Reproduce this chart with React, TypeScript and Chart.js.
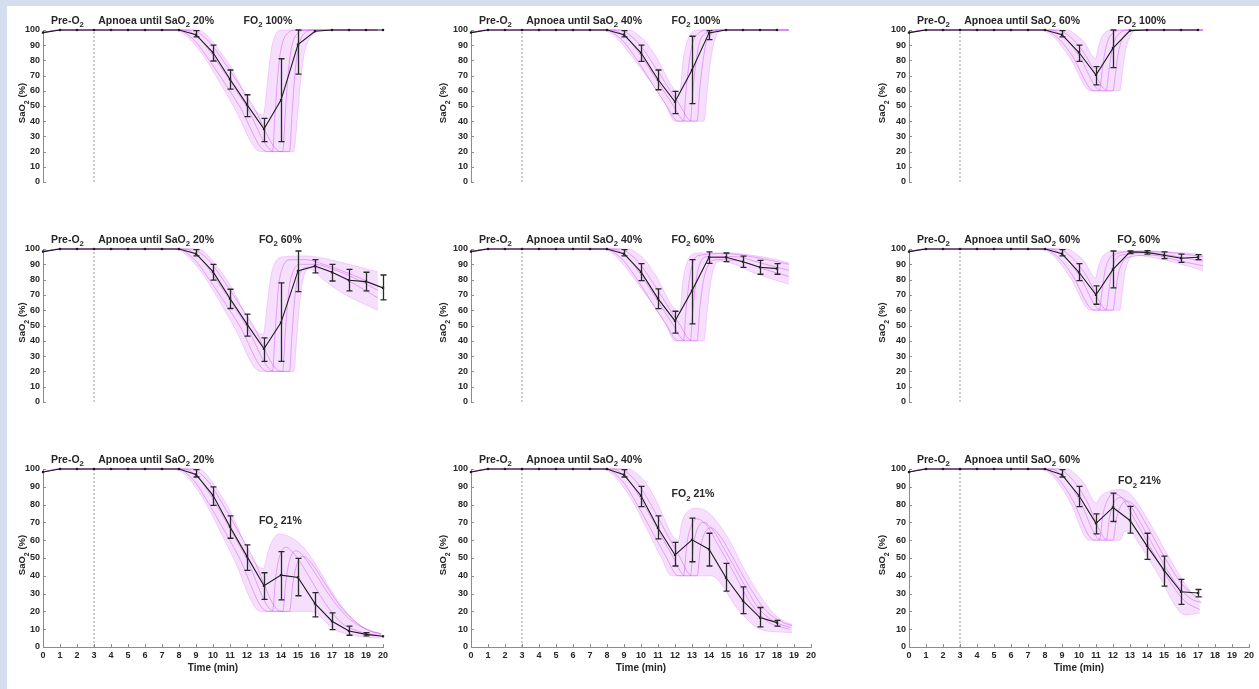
import React, { useEffect, useRef } from "react";
import { Chart, registerables } from "chart.js";

Chart.register(...registerables);

type Pt = [number, number];
type Err = [number, number, number];

// ---------- tick labels / categories ----------
const TIME_TICKS = [0, 1, 2, 3, 4, 5, 6, 7, 8, 9, 10, 11, 12, 13, 14, 15, 16, 17, 18, 19, 20];
const SAO2_TICKS = [0, 10, 20, 30, 40, 50, 60, 70, 80, 90, 100];
const TARGET_LABELS = ["20%", "40%", "60%"]; // columns: apnoea until SaO2
const FO2_LABELS = ["100%", "60%", "21%"]; // rows: FO2 after apnoea
const PRE_O2_END = 3;

// shared pre-oxygenation start of every simulated trace
const PRE: Pt[] = [[0, 98.3], [1, 100]];

// ---------- mean SaO2 per minute (index = minute) ----------
const MEAN_A1 = [98.3, 100, 100, 100, 100, 100, 100, 100, 100, 96.9, 85.2, 67.6, 50.9, 34.8, 53.9, 90.4, 99.2, 100, 100, 100, 100];
const MEAN_B1 = [98.3, 100, 100, 100, 100, 100, 100, 100, 100, 96.9, 85.2, 67.6, 50.9, 34.8, 51.9, 85.7, 88.9, 84.8, 79.6, 78.7, 74.6];
const MEAN_C1 = [98.3, 100, 100, 100, 100, 100, 100, 100, 100, 96.9, 85.2, 67.6, 50.9, 34.4, 40.4, 39.1, 24.4, 14.5, 9, 7.1, 6];
const MEAN_A2 = [98.3, 100, 100, 100, 100, 100, 100, 100, 100, 96.9, 85, 67.4, 52.8, 73.7, 98.1, 100, 100, 100, 100];
const MEAN_B2 = [98.3, 100, 100, 100, 100, 100, 100, 100, 100, 96.9, 85, 67.6, 53, 72.8, 94.6, 94.6, 91.7, 88.1, 87.2];
const MEAN_C2 = [98.3, 100, 100, 100, 100, 100, 100, 100, 100, 96.8, 85, 66.9, 51.7, 60.2, 54.9, 38.9, 25.9, 16.5, 13.7];
const MEAN_A3 = [98.3, 100, 100, 100, 100, 100, 100, 100, 100, 96.9, 85.2, 70.4, 88.1, 99.6, 100, 100, 100, 100];
const MEAN_B3 = [98.3, 100, 100, 100, 100, 100, 100, 100, 100, 96.9, 84.8, 70, 86.7, 98.1, 97.8, 95.9, 94, 94.6];
const MEAN_C3 = [98.3, 100, 100, 100, 100, 100, 100, 100, 100, 96.8, 85, 69.5, 78.4, 71.1, 56.8, 43.2, 31, 30.3];

// ---------- error bars [minute, low, high] ----------
const ERR_A1: Err[] = [[9, 95.5, 99.6], [10, 79.6, 90], [11, 61.1, 73.7], [12, 43, 57.4], [13, 26.5, 41.9], [14, 26.5, 81.1], [15, 71, 100]];
const ERR_B1: Err[] = [[9, 95.5, 99.6], [10, 79.6, 90], [11, 61.1, 73.7], [12, 43, 57.4], [13, 26.5, 41.9], [14, 26.5, 77.8], [15, 72.2, 98.7], [16, 84.4, 93.1], [17, 79.1, 90], [18, 72.6, 86.7], [19, 72.6, 84.8], [20, 66.7, 83]];
const ERR_C1: Err[] = [[9, 95.5, 99.6], [10, 79.6, 90], [11, 61.1, 73.7], [12, 43, 57.4], [13, 26.7, 41.7], [14, 26.5, 53.6], [15, 28.8, 49.8], [16, 16.9, 30.6], [17, 9.8, 19.2], [18, 6.6, 11.7], [19, 6.2, 8.1]];
const ERR_A2: Err[] = [[9, 95.5, 99.6], [10, 79.3, 90], [11, 60.7, 73.7], [12, 45, 59.6], [13, 51.5, 95.9], [14, 93.7, 99.6]];
const ERR_B2: Err[] = [[9, 95.5, 99.6], [10, 79.3, 90.4], [11, 61, 74], [12, 45, 59.3], [13, 51, 93], [14, 90.6, 98.1], [15, 91.7, 97.4], [16, 88, 95.4], [17, 83.5, 92.6], [18, 83.5, 90.4]];
const ERR_C2: Err[] = [[9, 95.5, 99.6], [10, 78.9, 90.2], [11, 60.7, 73.7], [12, 45.5, 58.8], [13, 47.9, 72.4], [14, 45.5, 63.9], [15, 31.4, 47], [16, 18.8, 33.8], [17, 11.3, 22.2], [18, 11.7, 15]];
const ERR_A3: Err[] = [[9, 95.5, 99.6], [10, 79.3, 90], [11, 63.9, 75.9], [12, 75.2, 100]];
const ERR_B3: Err[] = [[9, 95.5, 99.6], [10, 79.3, 90.4], [11, 63.9, 75.9], [12, 74.6, 98.7], [13, 97, 98.7], [14, 96.7, 98.9], [15, 93.7, 98.1], [16, 91.3, 96.7], [17, 93.1, 96.3]];
const ERR_C3: Err[] = [[9, 95.5, 99.6], [10, 78.9, 90.2], [11, 63.5, 74.8], [12, 70.5, 86.5], [13, 64, 79], [14, 49.2, 63.9], [15, 34.2, 51.1], [16, 23.9, 38], [17, 28.2, 32.3]];

// ---------- envelope of the simulated traces (upper / lower) ----------
const ENVHI_A1: Pt[] = [[0, 98.3], [1, 100], [9.2, 100], [9.6, 97], [10, 92], [10.8, 80], [12.95, 44], [13.2, 65], [13.4, 85], [13.6, 95], [14, 100], [19.7, 100]];
const ENVLO_A1: Pt[] = [[0, 98.3], [1, 100], [7.6, 100], [8.2, 98], [8.8, 92], [9.5, 82], [11.2, 50], [12.8, 20], [14.75, 20], [14.95, 40], [15.1, 60], [15.3, 80], [15.5, 90], [15.8, 96], [16.3, 100], [19.7, 100]];
const ENVHI_B1: Pt[] = [[0, 98.3], [1, 100], [9.2, 100], [9.6, 97], [10, 92], [10.8, 80], [12.95, 44], [13.2, 65], [13.4, 82], [13.7, 92], [14.2, 95], [15.5, 95.5], [16.5, 94], [18, 90], [19.7, 85]];
const ENVLO_B1: Pt[] = [[0, 98.3], [1, 100], [7.6, 100], [8.2, 98], [8.8, 92], [9.5, 82], [11.2, 50], [12.8, 20], [14.75, 20], [14.95, 45], [15.15, 70], [15.4, 84], [15.7, 87], [16.5, 80], [17.5, 72], [18.5, 66], [19.7, 60]];
const ENVHI_C1: Pt[] = [[0, 98.3], [1, 100], [9.2, 100], [9.6, 97], [10, 92], [10.8, 80], [12.95, 44], [13.25, 54], [13.5, 60], [13.9, 63.5], [14.5, 62], [15, 59], [15.5, 54], [16.2, 44], [17, 31], [18, 18], [19, 10], [19.9, 7.5]];
const ENVLO_C1: Pt[] = [[0, 98.3], [1, 100], [7.6, 100], [8.2, 98], [8.8, 92], [9.5, 82], [11.2, 50], [12.8, 20], [15.8, 20], [17.1, 10], [18, 7], [19, 5.5], [19.9, 5]];
const ENVHI_A2: Pt[] = [[0, 98.3], [1, 100], [9.3, 100], [9.8, 97], [10.3, 92], [10.8, 84], [12.28, 59], [12.45, 78], [12.65, 90], [12.9, 97], [13.3, 100], [18.7, 100]];
const ENVLO_A2: Pt[] = [[0, 98.3], [1, 100], [7.6, 100], [8.2, 98], [8.8, 92], [9.5, 82], [11.4, 52], [12, 40], [13.7, 40], [13.9, 60], [14.1, 80], [14.3, 92], [14.6, 99], [15, 100], [18.7, 100]];
const ENVHI_B2: Pt[] = [[0, 98.3], [1, 100], [9.3, 100], [9.8, 97], [10.3, 92], [10.8, 84], [12.28, 59], [12.45, 78], [12.65, 89], [12.9, 95.5], [13.5, 97.5], [15, 97.5], [16.5, 96], [18, 93], [18.7, 91]];
const ENVLO_B2: Pt[] = [[0, 98.3], [1, 100], [7.6, 100], [8.2, 98], [8.8, 92], [9.5, 82], [11.4, 52], [12, 40], [13.7, 40], [13.9, 60], [14.1, 78], [14.3, 88], [14.6, 92], [15.5, 90], [16.5, 85], [17.5, 81], [18.7, 77]];
const ENVHI_C2: Pt[] = [[0, 98.3], [1, 100], [9.3, 100], [9.8, 97], [10.3, 92], [10.8, 84], [12.2, 60], [12.4, 70], [12.8, 76.5], [13.3, 78], [13.9, 76], [14.5, 70], [15.2, 60], [16, 45], [17, 29], [18, 17], [18.9, 12.5]];
const ENVLO_C2: Pt[] = [[0, 98.3], [1, 100], [7.6, 100], [8.2, 98], [8.8, 92], [9.5, 82], [11.2, 50], [11.8, 40], [14.1, 40], [15.8, 20], [17, 10], [18, 8.5], [18.9, 8]];
const ENVHI_A3: Pt[] = [[0, 98.3], [1, 100], [9.3, 100], [9.8, 97], [10.3, 92], [11, 81], [11.05, 84], [11.25, 93], [11.5, 98], [11.9, 100], [17.3, 100]];
const ENVLO_A3: Pt[] = [[0, 98.3], [1, 100], [7.6, 100], [8.2, 98], [8.8, 92], [9.5, 81], [10.7, 60], [12.4, 60], [12.55, 72], [12.7, 84], [12.9, 93], [13.2, 99], [13.5, 100], [17.3, 100]];
const ENVHI_B3: Pt[] = [[0, 98.3], [1, 100], [9.3, 100], [9.8, 97], [10.3, 92], [11, 81], [11.05, 84], [11.25, 92], [11.5, 96.5], [12, 98.5], [14, 98.8], [15.5, 98], [17.3, 96.5]];
const ENVLO_B3: Pt[] = [[0, 98.3], [1, 100], [7.6, 100], [8.2, 98], [8.8, 92], [9.5, 81], [10.7, 60], [12.4, 60], [12.55, 72], [12.7, 84], [12.9, 92], [13.2, 96], [14, 95], [15, 93], [16, 90], [17.3, 86]];
const ENVHI_C3: Pt[] = [[0, 98.3], [1, 100], [9.3, 100], [9.8, 97], [10.3, 92], [11, 81], [11.3, 85], [11.8, 87.5], [12.3, 88.5], [12.9, 87], [13.5, 80], [14.5, 64], [15.5, 47], [16.5, 32], [17.2, 25]];
const ENVLO_C3: Pt[] = [[0, 98.3], [1, 100], [7.6, 100], [8.2, 98], [8.8, 92], [9.5, 81], [10.6, 60], [12.4, 60], [12.7, 65], [13, 65], [13.4, 60], [14.7, 40], [15.9, 20], [16.3, 18], [17.1, 19]];

// ---------- representative simulated traces (early / middle / late) ----------
const TR_A1_E: Pt[] = [[8, 100], [8.5, 97], [9, 92], [9.6, 83], [11.5, 51], [13.2, 20], [13.5, 20], [13.65, 45], [13.85, 75], [14.05, 90], [14.4, 98], [14.9, 100], [19.7, 100]];
const TR_A1_M: Pt[] = [[8.4, 100], [8.9, 97], [9.4, 92], [10, 83], [11.9, 51], [13.6, 20], [14.1, 20], [14.25, 45], [14.45, 75], [14.65, 90], [15, 98], [15.5, 100], [19.7, 100]];
const TR_A1_L: Pt[] = [[8.8, 100], [9.3, 97], [9.8, 92], [10.4, 83], [12.3, 51], [14, 20], [14.5, 20], [14.65, 45], [14.85, 75], [15.05, 90], [15.4, 98], [15.9, 100], [19.7, 100]];
const TR_B1_E: Pt[] = [[8, 100], [8.5, 97], [9, 92], [9.6, 83], [11.5, 51], [13.2, 20], [13.5, 20], [13.65, 45], [13.85, 75], [14.1, 88], [14.6, 93], [15.5, 93], [16.5, 90], [18, 84], [19.7, 76]];
const TR_B1_M: Pt[] = [[8.4, 100], [8.9, 97], [9.4, 92], [10, 83], [11.9, 51], [13.6, 20], [14.1, 20], [14.25, 45], [14.45, 72], [14.7, 85], [15.2, 90], [16, 90], [17, 87], [18.5, 80], [19.7, 73]];
const TR_B1_L: Pt[] = [[8.8, 100], [9.3, 97], [9.8, 92], [10.4, 83], [12.3, 51], [14, 20], [14.5, 20], [14.65, 45], [14.85, 72], [15.1, 84], [15.6, 88], [16.5, 87], [17.5, 82], [18.8, 74], [19.7, 68]];
const TR_C1_E: Pt[] = [[8, 100], [8.5, 97], [9, 92], [9.6, 83], [11.5, 51], [13.2, 20], [13.5, 20], [13.7, 40], [13.95, 52], [14.3, 56], [14.8, 52], [15.5, 42], [16.5, 26], [17.5, 14], [18.5, 9], [19.7, 6.5]];
const TR_C1_M: Pt[] = [[8.4, 100], [8.9, 97], [9.4, 92], [10, 83], [11.9, 51], [13.6, 20], [14.1, 20], [14.3, 38], [14.55, 50], [14.9, 54], [15.4, 50], [16.1, 40], [17, 27], [18, 16], [19, 10], [19.9, 7]];
const TR_C1_L: Pt[] = [[8.8, 100], [9.3, 97], [9.8, 92], [10.4, 83], [12.3, 51], [14, 20], [14.5, 20], [14.7, 36], [14.95, 47], [15.3, 51], [15.8, 47], [16.5, 37], [17.4, 24], [18.4, 14], [19.3, 9], [19.9, 7.5]];
const TR_A2_E: Pt[] = [[8, 100], [8.5, 97], [9, 92], [9.6, 83], [11.4, 52], [12.2, 40], [12.5, 40], [12.65, 60], [12.85, 80], [13.05, 92], [13.4, 98], [13.9, 100], [18.7, 100]];
const TR_A2_M: Pt[] = [[8.4, 100], [8.9, 97], [9.4, 92], [10, 83], [11.8, 52], [12.6, 40], [12.9, 40], [13.05, 60], [13.25, 80], [13.45, 92], [13.8, 98], [14.3, 100], [18.7, 100]];
const TR_A2_L: Pt[] = [[8.8, 100], [9.3, 97], [9.8, 92], [10.4, 83], [12.2, 52], [13, 40], [13.3, 40], [13.45, 60], [13.65, 80], [13.85, 92], [14.2, 98], [14.7, 100], [18.7, 100]];
const TR_B2_E: Pt[] = [[8, 100], [8.5, 97], [9, 92], [9.6, 83], [11.4, 52], [12.2, 40], [12.5, 40], [12.65, 60], [12.85, 80], [13.05, 91], [13.5, 96], [15, 97], [16.5, 95], [18.7, 90]];
const TR_B2_M: Pt[] = [[8.4, 100], [8.9, 97], [9.4, 92], [10, 83], [11.8, 52], [12.6, 40], [12.9, 40], [13.05, 60], [13.25, 80], [13.45, 90], [13.9, 95], [15.5, 95], [17, 91], [18.7, 86]];
const TR_B2_L: Pt[] = [[8.8, 100], [9.3, 97], [9.8, 92], [10.4, 83], [12.2, 52], [13, 40], [13.3, 40], [13.45, 60], [13.65, 78], [13.9, 88], [14.4, 93], [15.8, 92], [17.2, 87], [18.7, 82]];
const TR_C2_E: Pt[] = [[8, 100], [8.5, 97], [9, 92], [9.6, 83], [11.4, 52], [12.2, 40], [12.5, 40], [12.7, 58], [12.95, 68], [13.3, 72], [13.8, 69], [14.5, 58], [15.5, 41], [16.5, 24], [17.5, 14], [18.7, 10]];
const TR_C2_M: Pt[] = [[8.4, 100], [8.9, 97], [9.4, 92], [10, 83], [11.8, 52], [12.6, 40], [12.9, 40], [13.1, 58], [13.35, 67], [13.7, 70], [14.2, 66], [14.9, 55], [15.9, 38], [16.9, 22], [17.9, 14], [18.8, 11]];
const TR_C2_L: Pt[] = [[8.8, 100], [9.3, 97], [9.8, 92], [10.4, 83], [12.2, 52], [13, 40], [13.3, 40], [13.5, 56], [13.75, 64], [14.1, 67], [14.6, 63], [15.3, 52], [16.3, 35], [17.3, 21], [18.3, 14], [18.9, 12]];
const TR_A3_E: Pt[] = [[8, 100], [8.5, 97], [9, 92], [9.6, 83], [10.9, 60], [11.2, 60], [11.35, 72], [11.5, 84], [11.7, 93], [12, 98], [12.5, 100], [17.3, 100]];
const TR_A3_M: Pt[] = [[8.4, 100], [8.9, 97], [9.4, 92], [10, 83], [11.3, 60], [11.6, 60], [11.75, 72], [11.9, 84], [12.1, 93], [12.4, 98], [12.9, 100], [17.3, 100]];
const TR_A3_L: Pt[] = [[8.8, 100], [9.3, 97], [9.8, 92], [10.4, 83], [11.7, 60], [12, 60], [12.15, 72], [12.3, 84], [12.5, 93], [12.8, 98], [13.3, 100], [17.3, 100]];
const TR_B3_E: Pt[] = [[8, 100], [8.5, 97], [9, 92], [9.6, 83], [10.9, 60], [11.2, 60], [11.35, 72], [11.5, 84], [11.7, 92], [12.1, 96.5], [13.5, 98.5], [15.5, 97.5], [17.3, 95]];
const TR_B3_M: Pt[] = [[8.4, 100], [8.9, 97], [9.4, 92], [10, 83], [11.3, 60], [11.6, 60], [11.75, 72], [11.9, 84], [12.1, 92], [12.5, 96], [14, 97.5], [15.8, 95], [17.3, 92]];
const TR_B3_L: Pt[] = [[8.8, 100], [9.3, 97], [9.8, 92], [10.4, 83], [11.7, 60], [12, 60], [12.15, 72], [12.3, 83], [12.5, 90], [12.9, 94.5], [14.3, 96], [15.8, 92.5], [17.3, 89]];
const TR_C3_E: Pt[] = [[8, 100], [8.5, 97], [9, 92], [9.6, 83], [10.9, 60], [11.2, 60], [11.4, 74], [11.65, 82], [12, 86], [12.5, 84], [13.2, 73], [14.2, 56], [15.2, 39], [16.2, 26], [17.1, 21]];
const TR_C3_M: Pt[] = [[8.4, 100], [8.9, 97], [9.4, 92], [10, 83], [11.3, 60], [11.6, 60], [11.8, 73], [12.05, 81], [12.4, 84], [12.9, 81], [13.6, 70], [14.6, 53], [15.6, 37], [16.6, 27], [17.2, 25]];
const TR_C3_L: Pt[] = [[8.8, 100], [9.3, 97], [9.8, 92], [10.4, 83], [11.7, 60], [12, 60], [12.2, 72], [12.45, 79], [12.8, 82], [13.3, 79], [14, 68], [15, 51], [16, 36], [16.8, 29], [17.3, 28]];

// ---------- panel table ----------
interface PanelSpec {
  row: number; col: number; mean: number[]; err: Err[]; hi: Pt[]; lo: Pt[]; traces: Pt[][];
  fo2X: number; fo2Y: number | null;
}
const PANELS: PanelSpec[] = [
  { row: 0, col: 0, mean: MEAN_A1, err: ERR_A1, hi: ENVHI_A1, lo: ENVLO_A1, traces: [TR_A1_E, TR_A1_M, TR_A1_L], fo2X: 11.8, fo2Y: null },
  { row: 0, col: 1, mean: MEAN_A2, err: ERR_A2, hi: ENVHI_A2, lo: ENVLO_A2, traces: [TR_A2_E, TR_A2_M, TR_A2_L], fo2X: 11.8, fo2Y: null },
  { row: 0, col: 2, mean: MEAN_A3, err: ERR_A3, hi: ENVHI_A3, lo: ENVLO_A3, traces: [TR_A3_E, TR_A3_M, TR_A3_L], fo2X: 12.25, fo2Y: null },
  { row: 1, col: 0, mean: MEAN_B1, err: ERR_B1, hi: ENVHI_B1, lo: ENVLO_B1, traces: [TR_B1_E, TR_B1_M, TR_B1_L], fo2X: 12.7, fo2Y: null },
  { row: 1, col: 1, mean: MEAN_B2, err: ERR_B2, hi: ENVHI_B2, lo: ENVLO_B2, traces: [TR_B2_E, TR_B2_M, TR_B2_L], fo2X: 11.8, fo2Y: null },
  { row: 1, col: 2, mean: MEAN_B3, err: ERR_B3, hi: ENVHI_B3, lo: ENVLO_B3, traces: [TR_B3_E, TR_B3_M, TR_B3_L], fo2X: 12.25, fo2Y: null },
  { row: 2, col: 0, mean: MEAN_C1, err: ERR_C1, hi: ENVHI_C1, lo: ENVLO_C1, traces: [TR_C1_E, TR_C1_M, TR_C1_L], fo2X: 12.7, fo2Y: 69 },
  { row: 2, col: 1, mean: MEAN_C2, err: ERR_C2, hi: ENVHI_C2, lo: ENVLO_C2, traces: [TR_C2_E, TR_C2_M, TR_C2_L], fo2X: 11.8, fo2Y: 84.3 },
  { row: 2, col: 2, mean: MEAN_C3, err: ERR_C3, hi: ENVHI_C3, lo: ENVLO_C3, traces: [TR_C3_E, TR_C3_M, TR_C3_L], fo2X: 12.3, fo2Y: 91.6 },
];

// ---------- layout & style ----------
const FONT = "'Liberation Sans', Arial, Helvetica, sans-serif";
const TEXT = "#262626";
const AXIS = "#8c8c8c";
const COL_AXIS_X = [43, 471, 909];
const ROW_TOP = [30, 249, 469];
const ROW_H = [179, 180, 178];
const PLOT_W = 340;
const Y_AXIS_W = 45;
const TOP_PAD = 32;
const CANVAS_W = 400;
const X_AXIS_H = 27;
const TITLE_OFF = [21, 28, 27];

const toXY = (pts: Pt[]) => pts.map(([x, y]) => ({ x, y }));

function drawParts(ctx: CanvasRenderingContext2D, parts: [string, boolean][], x: number, y: number, size: number) {
  let cx = x;
  for (const [t, sub] of parts) {
    ctx.font = `bold ${sub ? size * 0.74 : size}px ${FONT}`;
    ctx.fillText(t, cx, sub ? y + size * 0.36 : y);
    cx += ctx.measureText(t).width;
  }
  return cx - x;
}
function partsWidth(ctx: CanvasRenderingContext2D, parts: [string, boolean][], size: number) {
  let w = 0;
  for (const [t, sub] of parts) {
    ctx.font = `bold ${sub ? size * 0.74 : size}px ${FONT}`;
    w += ctx.measureText(t).width;
  }
  return w;
}

function Panel({ p }: { p: PanelSpec }) {
  const ref = useRef<HTMLCanvasElement | null>(null);
  const isBottom = p.row === 2;
  const height = TOP_PAD + ROW_H[p.row] + (isBottom ? X_AXIS_H + 15 : 12);
  useEffect(() => {
    if (!ref.current) return;
    const purple = "rgba(196, 40, 240, ";
    const datasets: any[] = [
      { data: toXY(p.hi), borderColor: purple + "0.22)", borderWidth: 0.8, fill: "+1", backgroundColor: purple + "0.15)", pointRadius: 0, cubicInterpolationMode: "monotone", order: 5, clip: 6 },
      { data: toXY(p.lo), borderColor: purple + "0.22)", borderWidth: 0.8, fill: false, pointRadius: 0, cubicInterpolationMode: "monotone", order: 5, clip: 6 },
      ...p.traces.map((t) => ({ data: toXY([...PRE, ...t]), borderColor: purple + "0.36)", borderWidth: 1, fill: false, pointRadius: 0, cubicInterpolationMode: "monotone", order: 4, clip: 6 })),
      { data: [{ x: PRE_O2_END, y: 0 }, { x: PRE_O2_END, y: 100 }], borderColor: "#9a9a9a", borderWidth: 1, borderDash: [2, 2], pointRadius: 0, fill: false, order: 1 },
      { data: p.mean.map((y, i) => ({ x: TIME_TICKS[i], y })), borderColor: "#1c1c1c", borderWidth: 1.1, pointRadius: 1.6, pointStyle: "rect", pointBackgroundColor: "#1c1c1c", pointBorderWidth: 0, fill: false, tension: 0, order: 0, clip: 6 },
    ];
    const deco = {
      id: "deco",
      afterDatasetsDraw(chart: any) {
        const { ctx, scales: { x, y } } = chart;
        ctx.save();
        ctx.strokeStyle = "#2a2a2a";
        ctx.lineWidth = 1.3;
        for (const [t, lo, hi] of p.err) {
          const px = Math.round(x.getPixelForValue(t)) + 0.5;
          const y1 = y.getPixelForValue(lo);
          const y2 = y.getPixelForValue(hi);
          ctx.beginPath();
          ctx.moveTo(px, y1); ctx.lineTo(px, y2);
          ctx.moveTo(px - 3, y1); ctx.lineTo(px + 3, y1);
          ctx.moveTo(px - 3, y2); ctx.lineTo(px + 3, y2);
          ctx.stroke();
        }
        ctx.restore();
      },
      afterDraw(chart: any) {
        const { ctx, chartArea, scales: { x, y } } = chart;
        ctx.save();
        // inward tick marks
        ctx.strokeStyle = AXIS;
        ctx.lineWidth = 1;
        ctx.beginPath();
        for (const v of SAO2_TICKS) {
          const py = Math.round(y.getPixelForValue(v)) + 0.5;
          ctx.moveTo(chartArea.left, py); ctx.lineTo(chartArea.left + 3, py);
        }
        if (isBottom) {
          for (const t of TIME_TICKS) {
            const px = Math.round(x.getPixelForValue(t)) + 0.5;
            ctx.moveTo(px, chartArea.bottom); ctx.lineTo(px, chartArea.bottom - 3);
          }
        }
        ctx.stroke();
        // annotations
        ctx.fillStyle = TEXT;
        ctx.textAlign = "left";
        ctx.textBaseline = "alphabetic";
        const size = 10.5;
        const yb = chartArea.top - 6.5;
        drawParts(ctx, [["Pre-O", false], ["2", true]], x.getPixelForValue(0.47), yb, size);
        drawParts(ctx, [["Apnoea until SaO", false], ["2", true], [" " + TARGET_LABELS[p.col], false]], x.getPixelForValue(3.25), yb, size);
        const fy = p.fo2Y === null ? yb : y.getPixelForValue(p.fo2Y);
        drawParts(ctx, [["FO", false], ["2", true], [" " + FO2_LABELS[p.row], false]], x.getPixelForValue(p.fo2X), fy, size);
        // y-axis title
        const tSize = 9.5;
        const parts: [string, boolean][] = [["SaO", false], ["2", true], [" (%)", false]];
        const w = partsWidth(ctx, parts, tSize);
        ctx.translate(chartArea.left - TITLE_OFF[p.col], (chartArea.top + chartArea.bottom) / 2 - 3);
        ctx.rotate(-Math.PI / 2);
        drawParts(ctx, parts, -w / 2, tSize * 0.36, tSize);
        ctx.restore();
      },
    };
    const tickFont = { family: FONT, size: 9, weight: "bold" as const };
    const chart = new Chart(ref.current, {
      type: "line",
      data: { datasets },
      plugins: [deco],
      options: {
        animation: false,
        responsive: false,
        maintainAspectRatio: false,
        devicePixelRatio: 1,
        events: [],
        layout: { padding: { top: TOP_PAD, left: 0, right: CANVAS_W - Y_AXIS_W - PLOT_W, bottom: isBottom ? 15 : 12 } },
        plugins: { legend: { display: false }, tooltip: { enabled: false }, title: { display: false } },
        scales: {
          x: {
            type: "linear", min: 0, max: 20, display: isBottom,
            grid: { display: false, drawTicks: false, tickLength: 0 },
            border: { display: true, color: AXIS, width: 1 },
            ticks: { stepSize: 1, autoSkip: false, maxRotation: 0, padding: 3, font: tickFont, color: TEXT },
            title: { display: true, text: "Time (min)", font: { family: FONT, size: 10, weight: "bold" }, color: TEXT, padding: 0 },
            afterFit: (s: any) => { s.height = X_AXIS_H; },
          },
          y: {
            type: "linear", min: 0, max: 100,
            grid: { display: false, drawTicks: false, tickLength: 0 },
            border: { display: true, color: AXIS, width: 1 },
            ticks: { stepSize: 10, padding: 3, font: tickFont, color: TEXT },
            afterFit: (s: any) => { s.width = Y_AXIS_W; },
          },
        },
      } as any,
    });
    return () => chart.destroy();
  }, [p]);
  return (
    <canvas
      ref={ref}
      width={CANVAS_W}
      height={height}
      style={{ position: "absolute", left: COL_AXIS_X[p.col] - Y_AXIS_W, top: ROW_TOP[p.row] - TOP_PAD, width: CANVAS_W, height }}
    />
  );
}

export default function App() {
  return (
    <div style={{ position: "absolute", left: 0, top: 0, width: 1259, height: 689, overflow: "hidden", background: "#ffffff" }}>
      <div style={{ position: "absolute", left: 0, top: 0, width: 1259, height: 6, background: "#d5deef" }} />
      <div style={{ position: "absolute", left: 0, top: 0, width: 7, height: 689, background: "#d5deef" }} />
      {PANELS.map((p) => (
        <Panel key={`${p.row}-${p.col}`} p={p} />
      ))}
    </div>
  );
}
